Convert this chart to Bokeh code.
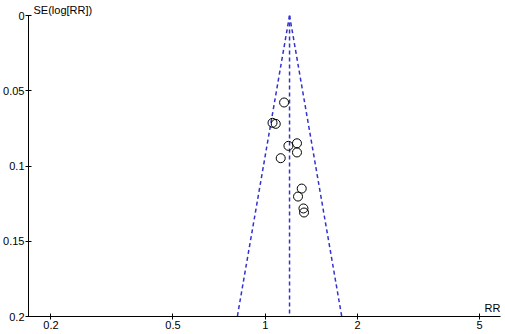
import math
from bokeh.plotting import figure
from bokeh.models import Range1d, FixedTicker, CustomJSTickFormatter, Label, ColumnDataSource
from bokeh.embed import file_html
from bokeh.resources import INLINE

# Study estimates
rr = [1.152, 1.056, 1.082, 1.190, 1.269, 1.269, 1.123, 1.315, 1.279, 1.332, 1.338]
se = [0.0578, 0.0713, 0.0720, 0.0866, 0.0849, 0.0910, 0.0948, 0.1150, 0.1203, 0.1282, 0.1309]
pooled_rr = 1.20
se_max = 0.2
x_ticks = [0.2, 0.5, 1, 2, 5]
y_ticks = [0, 0.05, 0.1, 0.15, 0.2]

FONT = "Liberation Sans"
BLUE = "#3333cc"

p = figure(width=505, height=334, x_axis_type="log",
           x_range=Range1d(0.169, 5.85), y_range=Range1d(0.2, 0),
           output_backend="svg", toolbar_location=None,
           min_border_left=28, min_border_right=5, min_border_top=15, min_border_bottom=18)
p.outline_line_color = None
p.xgrid.visible = False
p.ygrid.visible = False
p.background_fill_color = "white"
p.border_fill_color = "white"

# y-axis title shown at the top-left, as in the reference
p.title.text = "SE(log[RR])"
p.title.align = "left"
p.title.offset = 5
p.title.standoff = 0
p.title.text_font = FONT
p.title.text_font_size = "11px"
p.title.text_font_style = "normal"
p.title.text_color = "black"

# Funnel lines
lo = pooled_rr * math.exp(-1.96 * se_max)
hi = pooled_rr * math.exp(1.96 * se_max)
p.line([pooled_rr, pooled_rr], [0, se_max], line_color=BLUE, line_dash="4 3", line_width=1.5)
p.line([pooled_rr, lo], [0, se_max], line_color=BLUE, line_dash="4 3", line_width=1.5)
p.line([pooled_rr, hi], [0, se_max], line_color=BLUE, line_dash="4 3", line_width=1.5)

src = ColumnDataSource(dict(rr=rr, se=se))
p.scatter("rr", "se", source=src, marker="circle", size=9, fill_color=None,
          line_color="black", line_width=1)

fmt = CustomJSTickFormatter(code="return tick.toString();")
for ax, ticks in ((p.xaxis[0], x_ticks), (p.yaxis[0], y_ticks)):
    ax.ticker = FixedTicker(ticks=ticks, minor_ticks=[])
    ax.formatter = fmt
    ax.major_tick_in = 3
    ax.major_tick_out = 3
    ax.minor_tick_line_color = None
    ax.axis_line_color = "black"
    ax.major_tick_line_color = "black"
    ax.major_label_text_font = FONT
    ax.major_label_text_font_size = "11px"
    ax.major_label_text_color = "black"
    ax.major_label_standoff = 1

p.add_layout(Label(x=5.85, y=0.2, x_offset=0, y_offset=3, text="RR",
                   text_font=FONT, text_font_size="11px", text_color="black",
                   text_baseline="bottom", text_align="right"))

open("out.html", "w").write(file_html(p, INLINE))
